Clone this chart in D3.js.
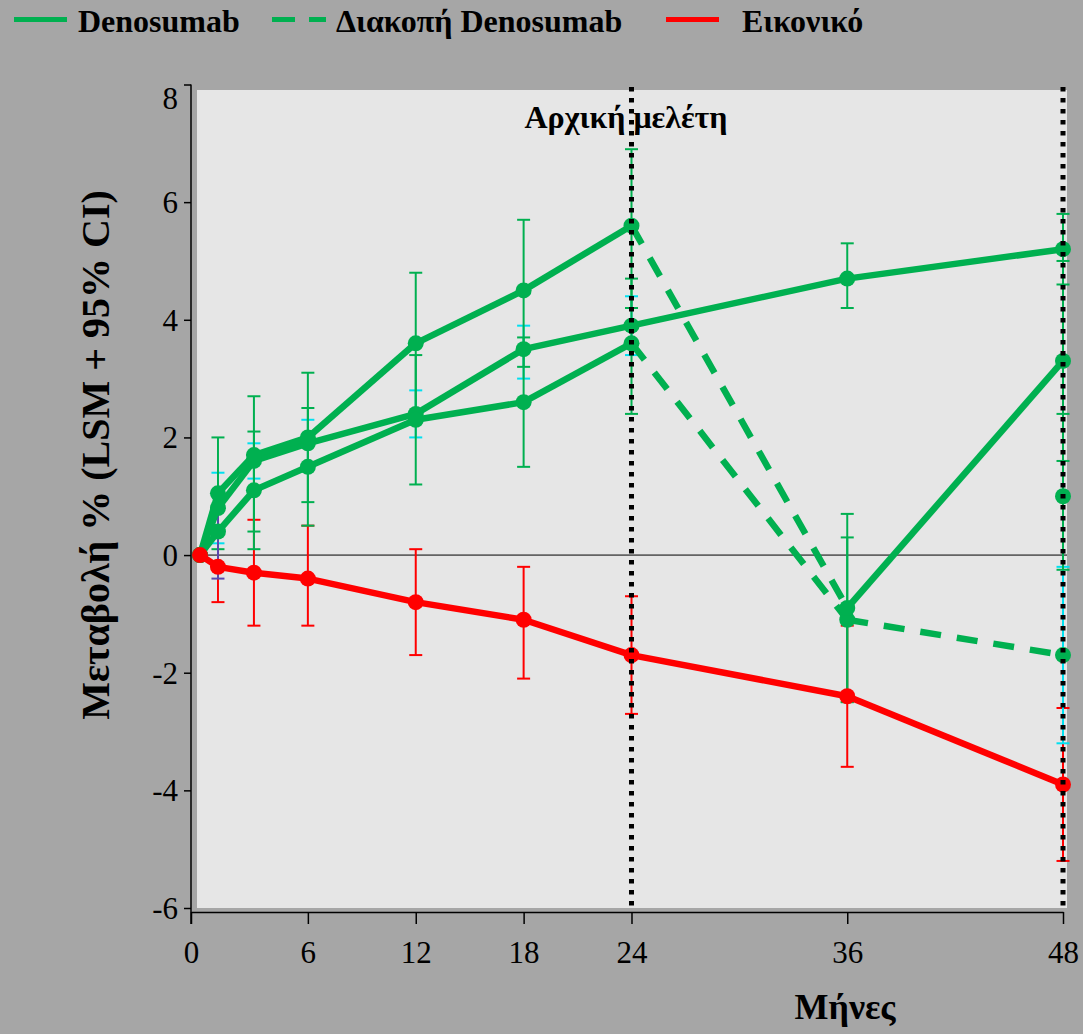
<!DOCTYPE html>
<html><head><meta charset="utf-8">
<script src="https://cdn.jsdelivr.net/npm/d3@7"></script>
<style>html,body{margin:0;padding:0;background:#a6a6a6;} svg{display:block;}</style>
</head><body>
<svg id="c" width="1083" height="1034"></svg>
<script>
// ---------- DATA ----------
const months = [0, 1, 3, 6, 12, 18, 24, 36, 48];
// Denosumab (retreated after discontinuation)
const retreatValues = [0, 1.05, 1.7, 2.0, 3.6, 4.5, 5.6, -0.9, 3.3];
const retreatLow    = [null, 0.1, 0.4, 0.9, 2.4, 3.2, 4.2, -2.5, 1.6];
const retreatHigh   = [null, 2.0, 2.7, 3.1, 4.8, 5.7, 6.9, 0.7, 5.0];
// Denosumab (continued)
const continuedValues = [0, 0.8, 1.6, 1.9, 2.4, 3.5, 3.9, 4.7, 5.2];
const continuedLow    = [null, 0.2, 1.3, 1.5, 2.0, 3.0, 3.4, 4.2, 4.6];
const continuedHigh   = [null, 1.4, 1.9, 2.3, 2.8, 3.9, 4.4, 5.3, 5.8];
// Διακοπή Denosumab (discontinued)
const discontValues = [0, 0.4, 1.1, 1.5, 2.3, 2.6, 3.6, -1.1, -1.7];
const discontLow    = [null, -0.4, 0.1, 0.5, 1.2, 1.5, 2.4, -2.5, -3.2];
const discontHigh   = [null, 1.0, 2.1, 2.5, 3.4, 3.7, 4.7, 0.3, -0.2];
// Εικονικό (placebo)
const placeboValues = [0, -0.2, -0.3, -0.4, -0.8, -1.1, -1.7, -2.4, -3.9];
const placeboLow    = [null, -0.8, -1.2, -1.2, -1.7, -2.1, -2.7, -3.6, -5.2];
const placeboHigh   = [null, 0.4, 0.6, 0.5, 0.1, -0.2, -0.7, -1.2, -2.6];
// single extra point at 48 months
const extraMonths = [48];
const extraValues = [1.0];
const extraLow = [-0.25];
const extraHigh = [2.4];

const yTicks = [-6, -4, -2, 0, 2, 4, 6, 8];
const xTickPos = [-0.5, 6, 12, 18, 24, 36, 48];
const xTickLabels = ["0", "6", "12", "18", "24", "36", "48"];
const refMonths = [24, 48];
const legendLabels = ["Denosumab", "Διακοπή Denosumab", "Εικονικό"];
const yTitle = "Μεταβολή % (LSM + 95% CI)";
const xTitle = "Μήνες";
const noteText = "Αρχική μελέτη";

// ---------- STYLE ----------
const GREEN = "#00b050", RED = "#ff0000", CYAN = "#00e0f0", PURPLE = "#5a48b0";
const FONT = "'Liberation Serif','Times New Roman',serif";
const svg = d3.select("#c");

const xs = d3.scaleLinear().domain([-0.5, 48]).range([191, 1063]);
const ys = d3.scaleLinear().domain([-6, 8]).range([908, 84.5]);

// plot background
svg.append("rect").attr("x", 197).attr("y", 90).attr("width", 870).attr("height", 818)
  .attr("fill", "#e6e6e6");

// zero line
svg.append("line").attr("x1", 197).attr("x2", 1067).attr("y1", ys(0)).attr("y2", ys(0))
  .attr("stroke", "#000").attr("stroke-width", 1);

// axes
const yAx = svg.append("g").attr("transform", "translate(191,0)")
  .call(d3.axisLeft(ys).tickValues(yTicks).tickSize(7).tickPadding(6).tickFormat(d => String(d)));
yAx.select(".domain").remove();
yAx.selectAll("text").attr("font-family", FONT).attr("font-size", 31).attr("fill", "#000")
  .attr("dy", d => d === 8 ? "0.78em" : "0.34em");
yAx.selectAll("line").attr("stroke", "#000").attr("stroke-width", 1.5);
svg.append("line").attr("x1", 191).attr("x2", 191).attr("y1", ys(8)).attr("y2", 924)
  .attr("stroke", "#000").attr("stroke-width", 1.5);

const xAx = svg.append("g").attr("transform", "translate(0,912)")
  .call(d3.axisBottom(xs).tickValues(xTickPos).tickSize(12).tickSizeOuter(0).tickPadding(17)
    .tickFormat((d, i) => xTickLabels[i]));
xAx.select(".domain").attr("stroke", "#000").attr("stroke-width", 1.5);
xAx.selectAll("line").attr("stroke", "#000").attr("stroke-width", 1.5);
xAx.selectAll("text").attr("font-family", FONT).attr("font-size", 31).attr("fill", "#000");

// titles
svg.append("text").attr("transform", "translate(109,455) rotate(-90)")
  .attr("text-anchor", "middle").attr("font-family", FONT).attr("font-weight", "bold")
  .attr("font-size", 40).text(yTitle);
svg.append("text").attr("x", 845).attr("y", 1019).attr("text-anchor", "middle")
  .attr("font-family", FONT).attr("font-weight", "bold").attr("font-size", 36).text(xTitle);
svg.append("text").attr("x", 626).attr("y", 128).attr("text-anchor", "middle")
  .attr("font-family", FONT).attr("font-weight", "bold").attr("font-size", 32).text(noteText);

// series definitions (style kept separate from data)
const series = [
  {key: "continued", vals: continuedValues, lo: continuedLow, hi: continuedHigh, color: GREEN,
   dashed: [], err: m => m <= 24 ? CYAN : GREEN},
  {key: "discont", vals: discontValues, lo: discontLow, hi: discontHigh, color: GREEN,
   dashed: [6, 7], err: m => m === 1 ? PURPLE : (m === 48 ? CYAN : GREEN)},
  {key: "retreat", vals: retreatValues, lo: retreatLow, hi: retreatHigh, color: GREEN,
   dashed: [6], err: m => GREEN},
  {key: "placebo", vals: placeboValues, lo: placeboLow, hi: placeboHigh, color: RED,
   dashed: [], err: m => RED}
];

const errG = svg.append("g");
const capW = 6.5;
function errBar(m, lo, hi, col) {
  if (lo == null) return;
  const x = xs(m);
  errG.append("line").attr("x1", x).attr("x2", x).attr("y1", ys(lo)).attr("y2", ys(hi))
    .attr("stroke", col).attr("stroke-width", 2);
  [lo, hi].forEach(v => errG.append("line").attr("x1", x - capW).attr("x2", x + capW)
    .attr("y1", ys(v)).attr("y2", ys(v)).attr("stroke", col).attr("stroke-width", 2));
}
// draw error bars: placebo first, then greens
[series[3], series[0], series[2], series[1]].forEach(s =>
  months.forEach((m, i) => errBar(m, s.lo[i], s.hi[i], s.err(m))));
extraMonths.forEach((m, i) => errBar(m, extraLow[i], extraHigh[i], GREEN));

const line = d3.line().x(d => xs(d[0])).y(d => ys(d[1]));
const lineG = svg.append("g");
function drawSeries(s) {
  for (let i = 0; i < months.length - 1; i++) {
    const seg = [[months[i], s.vals[i]], [months[i + 1], s.vals[i + 1]]];
    lineG.append("path").attr("d", line(seg)).attr("fill", "none")
      .attr("stroke", s.color).attr("stroke-width", 6.5)
      .attr("stroke-dasharray", s.dashed.includes(i) ? "21,16" : null);
  }
  months.forEach((m, i) => lineG.append("circle").attr("cx", xs(m)).attr("cy", ys(s.vals[i]))
    .attr("r", 8).attr("fill", s.color));
}
drawSeries(series[0]); drawSeries(series[1]); drawSeries(series[2]);
extraMonths.forEach((m, i) => lineG.append("circle").attr("cx", xs(m)).attr("cy", ys(extraValues[i]))
  .attr("r", 8).attr("fill", GREEN));
drawSeries(series[3]);

// reference dotted lines
refMonths.forEach(m => svg.append("line").attr("x1", xs(m)).attr("x2", xs(m))
  .attr("y1", 87).attr("y2", 907).attr("stroke", "#000").attr("stroke-width", 5)
  .attr("stroke-dasharray", "4.5,6.5"));

// legend
const lg = svg.append("g");
const legItems = [
  {x1: 14, x2: 67, tx: 78, color: GREEN, dash: null},
  {x1: 272, x2: 326, tx: 336, color: GREEN, dash: "23,14"},
  {x1: 666, x2: 719, tx: 742, color: RED, dash: null}
];
legItems.forEach((it, i) => {
  lg.append("line").attr("x1", it.x1).attr("x2", it.x2).attr("y1", 19.5).attr("y2", 19.5)
    .attr("stroke", it.color).attr("stroke-width", 5).attr("stroke-dasharray", it.dash);
  lg.append("text").attr("x", it.tx).attr("y", 32).attr("font-family", FONT)
    .attr("font-weight", "bold").attr("font-size", 32).text(legendLabels[i]);
});
</script>
</body></html>
